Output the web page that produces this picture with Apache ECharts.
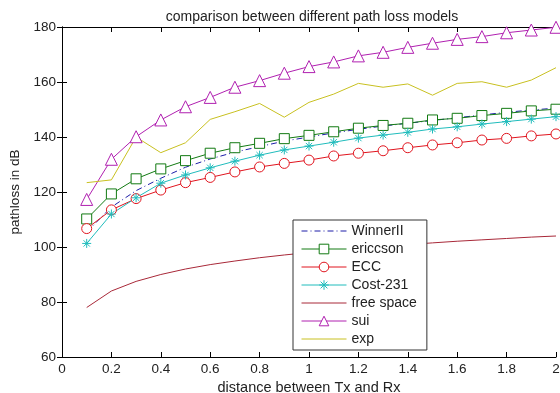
<!DOCTYPE html>
<html><head><meta charset="utf-8">
<script src="https://cdn.jsdelivr.net/npm/echarts@6/dist/echarts.min.js"></script>
<style>html,body{margin:0;padding:0;background:#fff}#c{width:560px;height:393px}</style>
</head><body><div id="c"></div>
<script>
const distance = [0.1,0.2,0.3,0.4,0.5,0.6,0.7,0.8,0.9,1.0,1.1,1.2,1.3,1.4,1.5,1.6,1.7,1.8,1.9,2.0];
const winnerII  = [105.5,114.5,120.5,125.0,129.0,132.0,134.5,136.5,138.5,140.0,141.5,142.8,144.0,145.0,146.0,147.0,148.0,149.0,149.8,150.5];
const ericcson  = [110.2,119.3,124.8,128.4,131.4,134.1,136.1,137.7,139.4,140.6,141.9,143.2,144.2,145.0,146.2,146.8,147.8,148.6,149.5,150.1];
const ecc       = [106.7,113.5,117.6,120.7,123.4,125.3,127.3,129.1,130.4,131.6,133.1,134.1,135.0,136.1,137.1,137.9,138.9,139.5,140.4,141.1];
const cost231   = [101.3,112.0,117.9,123.2,126.2,128.8,131.2,133.4,135.3,136.7,138.1,139.6,140.7,141.7,142.9,143.7,144.7,145.6,146.5,147.4];
const freeSpace = [78.0,84.0,87.5,90.0,92.0,93.6,94.9,96.1,97.1,98.0,98.8,99.6,100.3,100.9,101.5,102.1,102.6,103.1,103.6,104.0];
const sui       = [117.3,131.9,140.1,146.2,151.0,154.4,158.1,160.5,163.2,165.6,167.3,169.5,170.8,172.6,174.1,175.5,176.5,177.9,178.9,179.9];
const expData   = [123.4,124.4,140.0,134.3,137.9,146.4,149.2,152.2,147.2,152.6,155.6,159.5,158.1,159.3,155.2,159.5,160.1,158.1,160.7,165.2];
const seriesNames = ['WinnerII','ericcson','ECC','Cost-231','free space','sui','exp'];
const xTicks = {min:0, max:2, step:0.2};
const yTicks = {min:60, max:180, step:20};

const pair = arr => distance.map((d,i)=>[d,arr[i]]);
const star = 'path://M0,5L10,5M5,0L5,10M1.5,1.5L8.5,8.5M8.5,1.5L1.5,8.5';
const markerless = ['WinnerII','free space','exp'];
function mk(name, data, color, symbol, size, extra){
  return Object.assign({
    name, type:'line', data:pair(data), symbol: symbol||'none', symbolSize:size||0,
    showSymbol: !!symbol, animation:false,
    lineStyle:{color, width:1},
    itemStyle:{color: symbol===star ? color : '#fff', borderColor:color, borderWidth:1},
    emphasis:{disabled:true}
  }, extra||{});
}
const chart = echarts.init(document.getElementById('c'), null, {renderer:'canvas'});
const font = 'Liberation Sans';
const axisCommon = {
  axisLine:{show:true, lineStyle:{color:'#000', width:1}},
  axisTick:{show:true, inside:true, length:5, lineStyle:{color:'#000'}},
  splitLine:{show:false}
};
chart.setOption({
  animation:false,
  title:{text:'comparison between different path loss models', left:307, textAlign:'center', top:5,
    textStyle:{fontFamily:font, fontSize:14, fontWeight:'normal', color:'#222'}},
  grid:{left:62, right:4, top:27, bottom:36, outerBoundsMode:'none', containLabel:false},
  legend:{
    data: seriesNames.map(n => markerless.includes(n) ? {name:n, itemStyle:{opacity:0}} : {name:n}),
    orient:'vertical', left:293, top:220,
    backgroundColor:'#fff', borderColor:'#333', borderWidth:1, padding:[4,10,4,8],
    itemWidth:45, itemHeight:12, itemGap:4,
    lineStyle:{width:1},
    itemStyle:{borderWidth:1},
    textStyle:{fontFamily:font, fontSize:14, color:'#222', lineHeight:14}
  },
  xAxis:[
    Object.assign({type:'value', min:xTicks.min, max:xTicks.max, interval:xTicks.step,
      name:'distance between Tx and Rx', nameLocation:'middle', nameGap:20,
      nameTextStyle:{fontFamily:font, fontSize:14.5, color:'#222'},
      axisLabel:{fontFamily:font, fontSize:13.5, color:'#222', margin:5}}, axisCommon),
    Object.assign({type:'value', position:'top', min:xTicks.min, max:xTicks.max, interval:xTicks.step,
      axisLabel:{show:false}}, axisCommon)
  ],
  yAxis:[
    Object.assign({type:'value', min:yTicks.min, max:yTicks.max, interval:yTicks.step,
      name:'pathloss in dB', nameLocation:'middle', nameGap:38,
      nameTextStyle:{fontFamily:font, fontSize:13.5, color:'#222'},
      axisLabel:{fontFamily:font, fontSize:13.5, color:'#222', margin:6}}, axisCommon),
    Object.assign({type:'value', position:'right', min:yTicks.min, max:yTicks.max, interval:yTicks.step,
      axisLabel:{show:false}}, axisCommon)
  ],
  series:[
    mk(seriesNames[0], winnerII, '#1c1ca8', null, 0, {lineStyle:{color:'#1c1ca8', width:1, type:[6,3,1,3]}, itemStyle:{color:'#1c1ca8'}}),
    mk(seriesNames[1], ericcson, '#127a12', 'rect', 10),
    mk(seriesNames[2], ecc, '#e0141e', 'circle', 10),
    mk(seriesNames[3], cost231, '#20bcbc', star, 9),
    mk(seriesNames[4], freeSpace, '#a82838', null, 0, {itemStyle:{color:'#a82838'}}),
    mk(seriesNames[5], sui, '#b020b0', 'triangle', 12),
    mk(seriesNames[6], expData, '#c8c020', null, 0, {itemStyle:{color:'#c8c020'}})
  ]
});
</script></body></html>
